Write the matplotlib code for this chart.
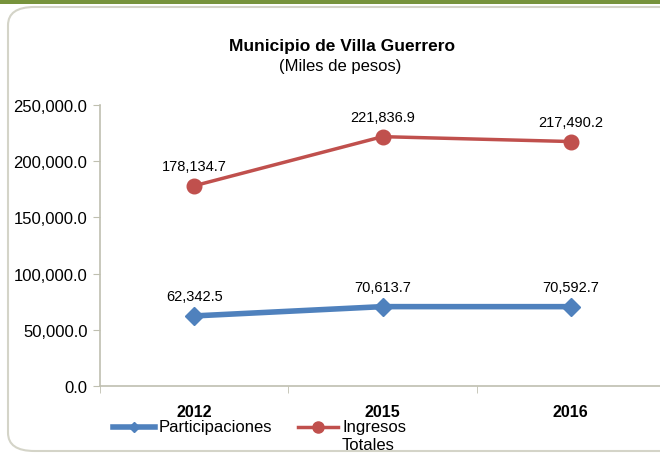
import matplotlib
matplotlib.use("Agg")
import matplotlib.pyplot as plt
from matplotlib.patches import FancyBboxPatch, Rectangle
from matplotlib.lines import Line2D

years = ["2012", "2015", "2016"]
participaciones = [62342.5, 70613.7, 70592.7]
ingresos_totales = [178134.7, 221836.9, 217490.2]
yticks = [0, 50000, 100000, 150000, 200000, 250000]

plt.rcParams['font.family'] = ['Liberation Sans', 'DejaVu Sans']

W, H = 660, 456
fig = plt.figure(figsize=(W/100, H/100), dpi=100)
fig.patch.set_facecolor('white')

# green top bar
fig.patches.append(Rectangle((0, 1 - 5/H), 1, 5/H, transform=fig.transFigure,
                             facecolor='#77933C', edgecolor='none'))
# rounded frame
fig.patches.append(FancyBboxPatch((8/W, 4/H), 700/W, (452-8)/H,
                                  boxstyle="round,pad=0,rounding_size=0.04",
                                  transform=fig.transFigure, facecolor='none',
                                  edgecolor='#D4D4C8', linewidth=1.5))

ax = fig.add_axes([100/W, 1 - 387/H, (665-100)/W, (387-106)/H])
ax.set_facecolor('none')
x = list(range(len(years)))
blue = '#4F81BD'
red = '#C0504D'
ax.plot(x, participaciones, color=blue, lw=4, marker='D', ms=9, zorder=3)
ax.plot(x, ingresos_totales, color=red, lw=2.5, marker='o', ms=10.5, zorder=3)

for i, v in enumerate(participaciones):
    ax.annotate(f"{v:,.1f}", (i, v), xytext=(0, 9), textcoords='offset points',
                ha='center', va='bottom', fontsize=10.5)
for i, v in enumerate(ingresos_totales):
    ax.annotate(f"{v:,.1f}", (i, v), xytext=(0, 9), textcoords='offset points',
                ha='center', va='bottom', fontsize=10.5)

ax.set_xlim(-0.5, 2.5)
ax.set_ylim(0, 250000)
ax.set_yticks(yticks)
ax.set_yticklabels([f"{t:,.1f}" for t in yticks], fontsize=12)
ax.set_xticks(x)
ax.set_xticklabels(years, fontsize=11.5, fontweight='bold')
ax.set_xticks([-0.5, 0.5, 1.5, 2.5], minor=True)
ax.tick_params(axis='x', which='major', length=0, pad=13)
ax.tick_params(axis='x', which='minor', length=5, color='#BFBFB0', direction='out')
ax.tick_params(axis='y', length=5, color='#BFBFB0', pad=4)
for s in ['top', 'right']:
    ax.spines[s].set_visible(False)
for s in ['left', 'bottom']:
    ax.spines[s].set_color('#BFBFB0')
    ax.spines[s].set_linewidth(1.2)

fig.text(342/W, 1 - 47/H, "Municipio de Villa Guerrero", ha='center', va='center',
         fontsize=12.5, fontweight='bold')
fig.text(340/W, 1 - 66/H, "(Miles de pesos)", ha='center', va='center', fontsize=12)

# legend (manual placement to keep handle aligned with the first text line)
ly = 1 - 428/H
fig.lines.append(Line2D([113/W, 155/W], [ly, ly], transform=fig.transFigure,
                        color=blue, lw=4))
fig.lines.append(Line2D([134/W], [ly], transform=fig.transFigure, color=blue,
                        marker='D', ms=5, lw=0))
fig.text(159/W, ly, "Participaciones", ha='left', va='center', fontsize=12)
fig.lines.append(Line2D([298/W, 338/W], [ly, ly], transform=fig.transFigure,
                        color=red, lw=2.5))
fig.lines.append(Line2D([318/W], [ly], transform=fig.transFigure, color=red,
                        marker='o', ms=8, lw=0))
fig.text(342/W, ly, "Ingresos", ha='left', va='center', fontsize=12)
fig.text(342/W, 1 - 446/H, "Totales", ha='left', va='center', fontsize=12)

fig.savefig("out.png", dpi=100)
